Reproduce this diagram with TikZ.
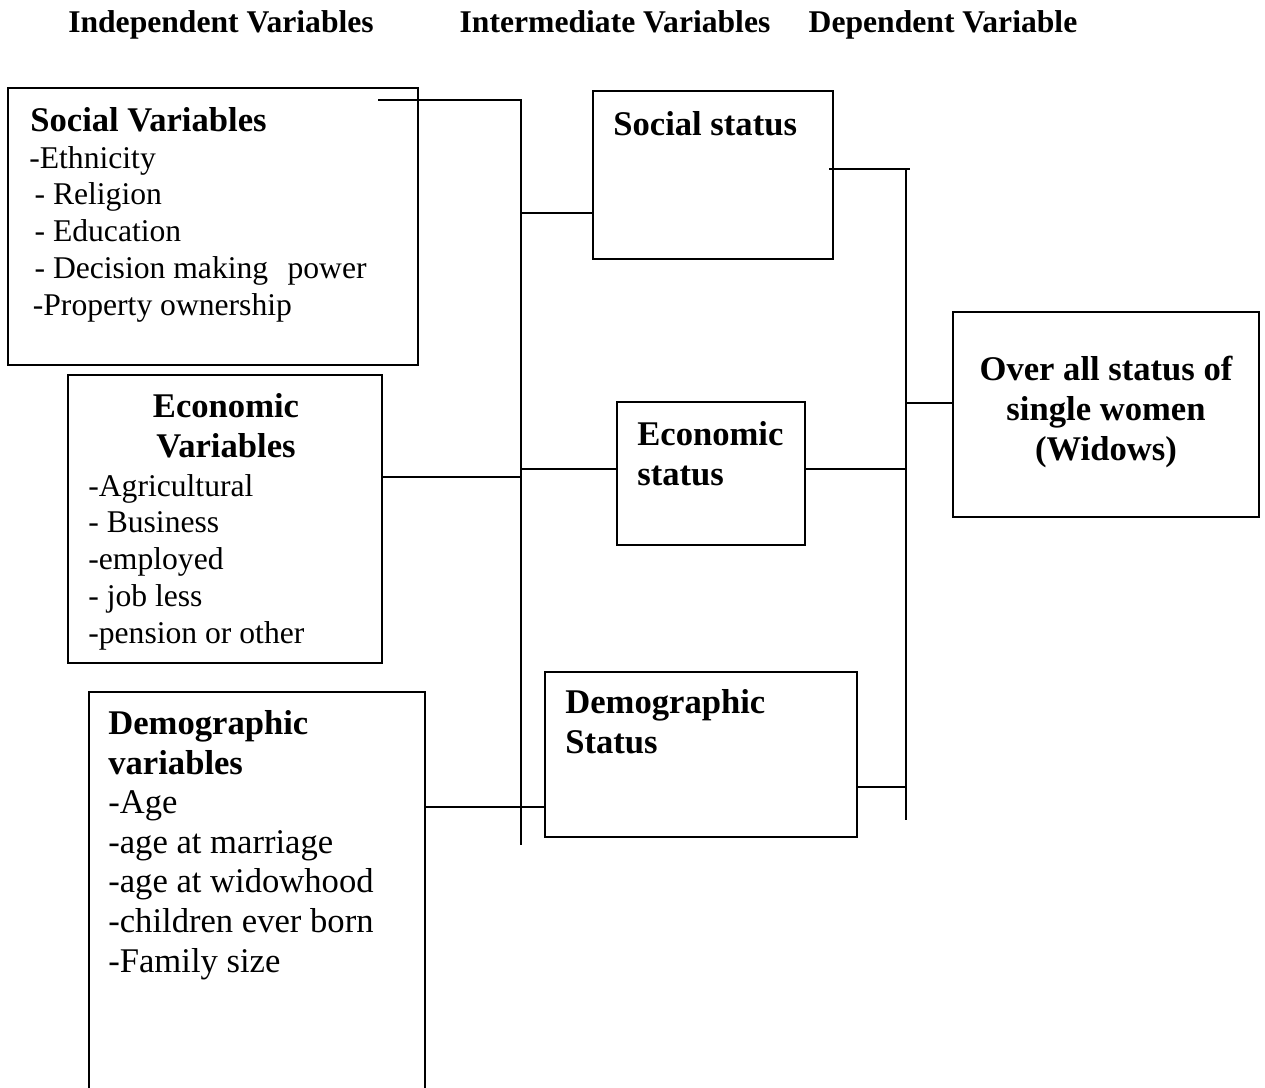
\documentclass[tikz,border=0pt]{standalone}
\usepackage{fontspec}
\setmainfont{Liberation Serif}
\def\headfont{\fontsize{18}{20.7}\selectfont\bfseries}
\def\titlefont{\fontsize{19.7}{22.7}\selectfont\bfseries}
\def\itemfont{\fontsize{18}{20.9}\selectfont}
\def\demfont{\fontsize{19.7}{22.5}\selectfont}
\tikzset{
  varbox/.style={draw, line width=1.1pt, rectangle, inner sep=0pt, outer sep=0pt, anchor=north west},
  txt/.style={inner sep=0pt, anchor=base west, align=left},
  link/.style={line width=1pt}
}

\begin{document}
\begin{tikzpicture}[x=0.02cm,y=-0.02cm]
  \useasboundingbox (0,0) rectangle (1265,1088);
  \clip (0,0) rectangle (1265,1088);
  % column headings
  \node[txt, anchor=base, font=\headfont] (hind) at (221,33) {Independent Variables};
  \node[txt, anchor=base, font=\headfont] (hint) at (615,33) {Intermediate Variables};
  \node[txt, anchor=base, font=\headfont] (hdep) at (943,33) {Dependent Variable};

  % independent variables (multi-line texts sit on their last line)
  \node[varbox, minimum width=8.2cm, minimum height=5.54cm] (socv) at (8,88) {};
  \node[txt, font=\titlefont] (socvt) at (30,132) {Social Variables};
  \node[txt, font=\itemfont] (socvi) at (29,315) {-Ethnicity\\ \hspace{3pt}- Religion\\ \hspace{3pt}- Education\\
    \hspace{3pt}- Decision making\hspace{11pt}power\\ \hspace{2pt}-Property ownership};

  \node[varbox, minimum width=6.28cm, minimum height=5.76cm] (ecov) at (68,375) {};
  \node[txt, anchor=base, align=center, font=\titlefont] (ecovt) at (226,457) {Economic\\ Variables};
  \node[txt, font=\itemfont] (ecovi) at (88,643) {-Agricultural\\ - Business\\ -employed\\ - job less\\ -pension or other};

  \node[varbox, minimum width=6.72cm, minimum height=8.56cm] (demv) at (89,692) {};
  \node[txt, font=\demfont] (demvt) at (108,972) {\textbf{Demographic}\\ \textbf{variables}\\ -Age\\ -age at marriage\\
    -age at widowhood\\ -children ever born\\ -Family size};

  % intermediate variables
  \node[varbox, minimum width=4.8cm, minimum height=3.36cm] (socst) at (593,91) {};
  \node[txt, font=\titlefont] (socstt) at (613,135) {Social status};
  \node[varbox, minimum width=3.76cm, minimum height=2.86cm] (ecost) at (617,402) {};
  \node[txt, font=\titlefont] (ecostt) at (637,485) {Economic\\ status};
  \node[varbox, minimum width=6.24cm, minimum height=3.3cm] (demst) at (545,672) {};
  \node[txt, font=\titlefont] (demstt) at (565,753) {Demographic\\ Status};

  % dependent variable
  \node[varbox, minimum width=6.12cm, minimum height=4.1cm] (over) at (953,312) {};
  \node[txt, anchor=base, align=center, font=\titlefont] (overt) at (1106,460) {Over all status of\\ single women\\ (Widows)};

  % joints on the two spines
  \coordinate (soctail) at (378,100);
  \coordinate (ltop) at (521,100);
  \coordinate (lbot) at (521,845);
  \coordinate (rtop) at (906,169);
  \coordinate (rbot) at (906,820);
  \coordinate (j1) at (521,213);
  \coordinate (j2) at (521,477);
  \coordinate (j3) at (521,469);
  \coordinate (j4) at (521,807);
  \coordinate (j5) at (906,403);
  \coordinate (j6) at (906,469);
  \coordinate (j7) at (906,787);

  \draw[link] (soctail) -- (ltop) -- (lbot);
  \draw[link] (j1) -- (j1 -| socst.west);
  \draw[link] (ecov.east |- j2) -- (j2);
  \draw[link] (j3) -- (j3 -| ecost.west);
  \draw[link] (j4 -| demv.east) -- (j4 -| demst.west);
  \draw[link] ([xshift=-2]socst.east |- rtop) -- ([xshift=2]rtop);
  \draw[link] (rtop) -- (rbot);
  \draw[link] (j5) -- (j5 -| over.west);
  \draw[link] (ecost.east |- j6) -- (j6);
  \draw[link] (demst.east |- j7) -- (j7);
\end{tikzpicture}
\end{document}
